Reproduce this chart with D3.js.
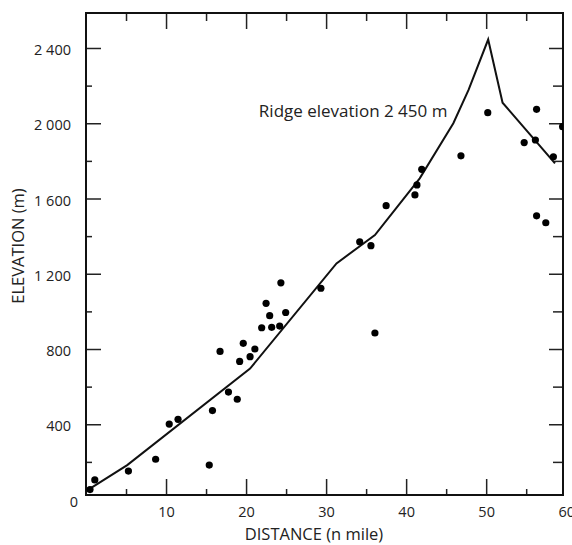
<!DOCTYPE html>
<html>
<head>
    <meta charset="UTF-8">
    <title>Elevation profile</title>
    <style>
        body {
            margin: 0;
            background: #fff;
        }

        text {
            font-family: "Open Sans", sans-serif;
            fill: #222;
        }

        .frame {
            fill: none;
            stroke: #111;
            stroke-width: 2px;
        }

        .profile {
            fill: none;
            stroke: #111;
            stroke-width: 2px;
            stroke-linejoin: miter;
        }

        .tick line {
            stroke: #222;
            stroke-width: 1.5px;
        }
    </style>
</head>
<body>
<svg id="chart" width="572" height="545"></svg>
<script src="https://d3js.org/d3.v7.min.js"></script>
<script>

    // profile line (distance in n mile, elevation in m)
    var profileDist = [0, 5.15, 20.5, 31.3, 36.1, 41.7, 45.9, 47.8, 50.25, 52.05, 58.6];
    var profileElev = [45, 183, 696, 1255, 1406, 1707, 2000, 2177, 2445, 2109, 1787];

    // measured points
    var pointDist = [0.5, 1.1, 5.3, 8.7, 10.4, 11.5, 15.4, 15.8, 16.75, 17.8,
        18.9, 19.2, 19.65, 20.5, 21.1, 21.95, 22.5, 22.95, 23.2, 24.2,
        24.35, 24.95, 29.35, 34.2, 35.6, 36.1, 37.5, 41.1, 41.35, 41.95,
        46.85, 50.2, 54.75, 56.15, 56.3, 58.4, 59.55, 56.3, 57.45];
    var pointElev = [53, 104, 151, 214, 401, 426, 183, 473, 787, 571,
        533, 734, 830, 759, 800, 913, 1043, 977, 915, 922,
        1152, 994, 1123, 1370, 1349, 885, 1562, 1619, 1672, 1755,
        1827, 2056, 1897, 1911, 2074, 1822, 1982, 1508, 1471];

    var xTicks = [10, 20, 30, 40, 50, 60];
    var xMinorTicks = [5, 15, 25, 35, 45, 55];
    var yTicks = [0, 400, 800, 1200, 1600, 2000, 2400];
    var yMinorTicks = [200, 600, 1000, 1400, 1800, 2200];

    var ridgeLabel = "Ridge elevation 2 450 m";
    var xTitle = "DISTANCE (n mile)";
    var yTitle = "ELEVATION (m)";

    var svg = d3.select("#chart");

    // plot box (window.top is reserved, so use other names)
    var pLeft = 86, pRight = 563, pTop = 13, pBottom = 495;

    var x = d3.scaleLinear().domain([0, 59.6]).range([pLeft, pRight]);
    var y = d3.scaleLinear().domain([24, 2586]).range([pBottom, pTop]);

    var locale = d3.formatLocale({decimal: ".", thousands: " ", grouping: [3], currency: ["", ""]});
    var fmt = locale.format(",");

    var defs = svg.append("defs");
    defs.append("clipPath").attr("id", "plot")
        .append("rect")
        .attr("x", pLeft).attr("y", pTop)
        .attr("width", pRight - pLeft).attr("height", pBottom - pTop);

    // ticks, all pointing into the plot
    function tickGroup(axis, tx, ty) {
        var g = svg.append("g").attr("transform", "translate(" + tx + "," + ty + ")").call(axis);
        g.select(".domain").remove();
        return g;
    }

    // bottom axis with labels
    var gx = tickGroup(d3.axisBottom(x).tickValues(xTicks).tickSizeInner(-16).tickSizeOuter(0).tickPadding(12), 0, pBottom);
    gx.selectAll("text").style("font-size", "14.5px");
    gx.selectAll(".tick").filter(function (d) { return d === 60; }).select("line").remove();
    tickGroup(d3.axisBottom(x).tickValues(xMinorTicks).tickSizeInner(-6).tickSizeOuter(0).tickFormat(""), 0, pBottom);

    // top ticks
    tickGroup(d3.axisTop(x).tickValues(xTicks.slice(0, 5)).tickSizeInner(-16).tickSizeOuter(0).tickFormat(""), 0, pTop);
    tickGroup(d3.axisTop(x).tickValues(xMinorTicks).tickSizeInner(-8).tickSizeOuter(0).tickFormat(""), 0, pTop);

    // left axis with labels
    var gy = tickGroup(d3.axisLeft(y).tickValues(yTicks).tickSizeInner(-15).tickSizeOuter(0).tickPadding(15).tickFormat(fmt), pLeft, 0);
    gy.selectAll("text").style("font-size", "14.5px").attr("dy", "0.45em");
    gy.selectAll(".tick").filter(function (d) { return d === 0; }).select("line").remove();
    gy.selectAll(".tick").filter(function (d) { return d === 0; }).select("text").attr("x", -8);
    tickGroup(d3.axisLeft(y).tickValues(yMinorTicks).tickSizeInner(-6).tickSizeOuter(0).tickFormat(""), pLeft, 0);

    // right ticks
    tickGroup(d3.axisRight(y).tickValues(yTicks.slice(1)).tickSizeInner(-14).tickSizeOuter(0).tickFormat(""), pRight, 0);
    tickGroup(d3.axisRight(y).tickValues(yMinorTicks).tickSizeInner(-10).tickSizeOuter(0).tickFormat(""), pRight, 0);

    // frame
    svg.append("rect")
        .attr("class", "frame")
        .attr("x", pLeft).attr("y", pTop)
        .attr("width", pRight - pLeft).attr("height", pBottom - pTop);

    // profile
    var line = d3.line()
        .x(function (d, i) { return x(profileDist[i]); })
        .y(function (d, i) { return y(profileElev[i]); });

    svg.append("path")
        .attr("class", "profile")
        .attr("d", line(profileDist));

    // points
    svg.append("g")
        .attr("clip-path", "url(#plot)")
        .selectAll("circle")
        .data(pointDist)
        .enter()
        .append("circle")
        .attr("cx", function (d) { return x(d); })
        .attr("cy", function (d, i) { return y(pointElev[i]); })
        .attr("r", 3.6)
        .attr("fill", "#000");

    // annotation
    svg.append("text")
        .attr("x", x(21.6))
        .attr("y", y(2033))
        .style("font-size", "17px")
        .text(ridgeLabel);

    // axis titles
    svg.append("text")
        .attr("x", 314)
        .attr("y", 540)
        .attr("text-anchor", "middle")
        .style("font-size", "16.5px")
        .text(xTitle);

    svg.append("text")
        .attr("transform", "translate(24,246) rotate(-90)")
        .attr("text-anchor", "middle")
        .style("font-size", "16.5px")
        .text(yTitle);

</script>
</body>
</html>
